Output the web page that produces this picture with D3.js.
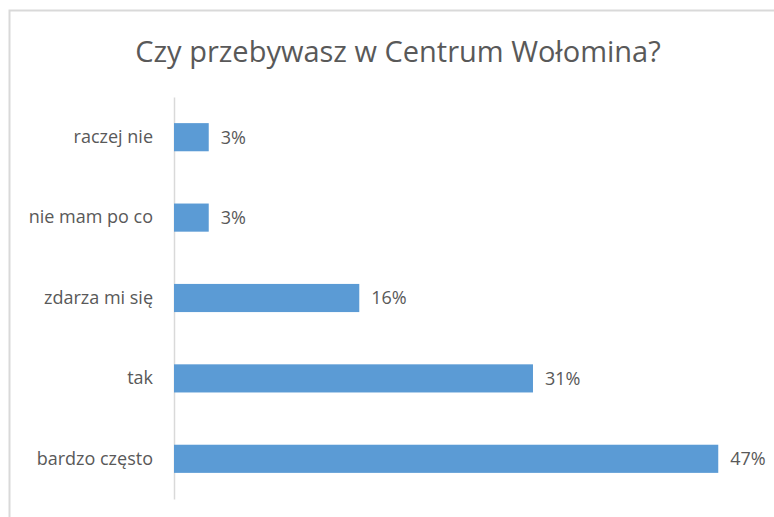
<!DOCTYPE html>
<html>
<head>
<meta charset="utf-8">
<script src="https://cdn.jsdelivr.net/npm/d3@7"></script>
<style>
body{margin:0;background:#fff;}
text{font-family:"Open Sans",sans-serif;fill:#595959;}
</style>
</head>
<body>
<div id="chart"></div>
<script>
var title="Czy przebywasz w Centrum Wołomina?";
var categories=["raczej nie","nie mam po co","zdarza mi się","tak","bardzo często"];
var values=[3,3,16,31,47];
var valueLabels=["3%","3%","16%","31%","47%"];

var width=774,height=517;
var margin={"top":97,"right":21,"bottom":18,"left":174};

var svg=d3.select("#chart")
          .append("svg")
          .attr("width",width)
          .attr("height",height)

// chart frame, runs off the right and bottom edge like the screenshot
svg.append("rect")
   .attr("x",9.5)
   .attr("y",10.5)
   .attr("width",800)
   .attr("height",540)
   .attr("fill","none")
   .attr("stroke","#d9d9d9")
   .attr("stroke-width",2)

svg.append("text")
   .text(title)
   .attr("x",398)
   .attr("y",62)
   .attr("text-anchor","middle")
   .style("font-size","29px")

var xscale=d3.scaleLinear()
             .domain([0,50])
             .range([margin.left,width-margin.right])
var yscale=d3.scaleBand()
             .domain(categories)
             .range([margin.top,height-margin.bottom])
             .paddingInner(0.65)
             .paddingOuter(0.325)

var yAxis=d3.axisLeft()
            .scale(yscale)
            .tickSize(0)
            .tickPadding(21)
var gy=svg.append("g")
          .attr("transform","translate("+margin.left+",0)")
          .call(yAxis)
gy.select(".domain").attr("stroke","#d9d9d9").attr("stroke-width",1.5)
gy.selectAll("text")
  .style("font-size","18px")
  .attr("fill","#595959")

svg.append("g")
   .selectAll("rect")
   .data(values)
   .enter()
   .append("rect")
   .attr("x",xscale(0))
   .attr("y",function (d,i) { return yscale(categories[i]); })
   .attr("width",function (d) { return xscale(d)-xscale(0); })
   .attr("height",yscale.bandwidth())
   .attr("fill","#5b9bd5")

svg.append("g")
   .selectAll("text")
   .data(values)
   .enter()
   .append("text")
   .text(function (d,i) { return valueLabels[i]; })
   .attr("x",function (d) { return xscale(d)+12; })
   .attr("y",function (d,i) { return yscale(categories[i])+yscale.bandwidth()/2; })
   .attr("dy","0.35em")
   .style("font-size","18px")
</script>
</body>
</html>
